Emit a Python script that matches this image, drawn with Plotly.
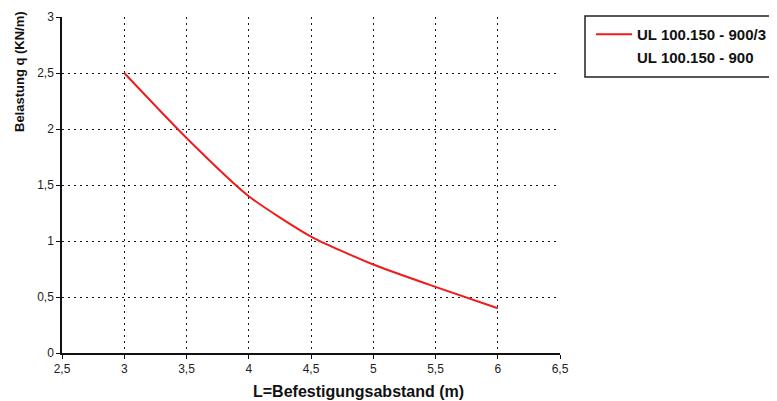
import plotly.graph_objects as go

# Data
spans = [3.0, 3.5, 4.0, 4.5, 5.0, 5.5, 6.0]
load_900_3 = [2.50, 1.92, 1.40, 1.04, 0.79, 0.59, 0.40]

x_ticks = [2.5, 3, 3.5, 4, 4.5, 5, 5.5, 6, 6.5]
x_tick_labels = ["2,5", "3", "3,5", "4", "4,5", "5", "5,5", "6", "6,5"]
y_ticks = [0, 0.5, 1, 1.5, 2, 2.5, 3]
y_tick_labels = ["0", "0,5", "1", "1,5", "2", "2,5", "3"]

series1 = "UL 100.150 - 900/3"
series2 = "UL 100.150 - 900"
x_title = "L=Befestigungsabstand (m)"
y_title = "Belastung q (KN/m)"

FONT = "Liberation Sans, Arial, sans-serif"

# page body has an 8px default margin -> work in figure coordinates
OFF = 8
W, H = 777 - OFF, 401 - OFF
left, right, top, bottom = 62 - OFF, 560 - OFF, 17 - OFF, 353 - OFF
ml, mr, mt, mb = left, W - right, top, H - bottom
pw, ph = right - left, bottom - top

def px(x):
    return (x - OFF - left) / pw

def py(y):
    return (bottom - (y - OFF)) / ph

fig = go.Figure()
fig.add_trace(go.Scatter(
    x=spans, y=load_900_3, mode="lines", name=series1,
    line=dict(color="#ee1c1c", width=2, shape="spline", smoothing=0.6),
))
fig.add_trace(go.Scatter(
    x=[None], y=[None], mode="lines", name=series2,
    line=dict(color="rgba(0,0,0,0)", width=2),
))

fig.update_layout(
    width=W, height=H,
    margin=dict(l=ml, r=mr, t=mt, b=mb, autoexpand=False),
    paper_bgcolor="white", plot_bgcolor="white",
    font=dict(family=FONT, color="#222222", size=12),
    showlegend=True,
    legend=dict(
        x=px(591), y=py(18),
        xanchor="left", yanchor="top",
        borderwidth=0, bgcolor="rgba(0,0,0,0)",
        font=dict(family=FONT, size=15, color="#111111", weight="bold"),
        tracegroupgap=0, itemwidth=36,
    ),
    shapes=[
        dict(type="rect", xref="paper", yref="paper",
             x0=px(585), x1=px(800), y0=py(77), y1=py(16),
             line=dict(color="#222222", width=1.5), fillcolor="rgba(0,0,0,0)",
             layer="below"),
    ],
    xaxis=dict(
        range=[2.5, 6.5], tickmode="array", tickvals=x_ticks, ticktext=x_tick_labels,
        showgrid=True, gridcolor="#1a1a1a", gridwidth=1, griddash="2px,4px",
        showline=True, linecolor="#111111", linewidth=1.5,
        ticks="outside", ticklen=4, tickcolor="#111111", tickwidth=1,
        zeroline=False, tickfont=dict(size=12, color="#222222"),
    ),
    yaxis=dict(
        range=[0, 3], tickmode="array", tickvals=y_ticks, ticktext=y_tick_labels,
        showgrid=True, gridcolor="#1a1a1a", gridwidth=1, griddash="2px,4px",
        showline=True, linecolor="#111111", linewidth=1.5,
        ticks="outside", ticklen=4, tickcolor="#111111", tickwidth=1,
        zeroline=False, tickfont=dict(size=12, color="#222222"),
    ),
    annotations=[
        dict(text=x_title, xref="paper", yref="paper",
             x=px(358), y=py(391),
             xanchor="center", yanchor="middle", showarrow=False,
             font=dict(family=FONT, size=16, color="#111111", weight="bold")),
        dict(text=y_title, xref="paper", yref="paper",
             x=px(20), y=py(72),
             xanchor="center", yanchor="middle", showarrow=False, textangle=-90,
             font=dict(family=FONT, size=13, color="#111111", weight="bold")),
    ],
)

fig.write_html("out.html")
